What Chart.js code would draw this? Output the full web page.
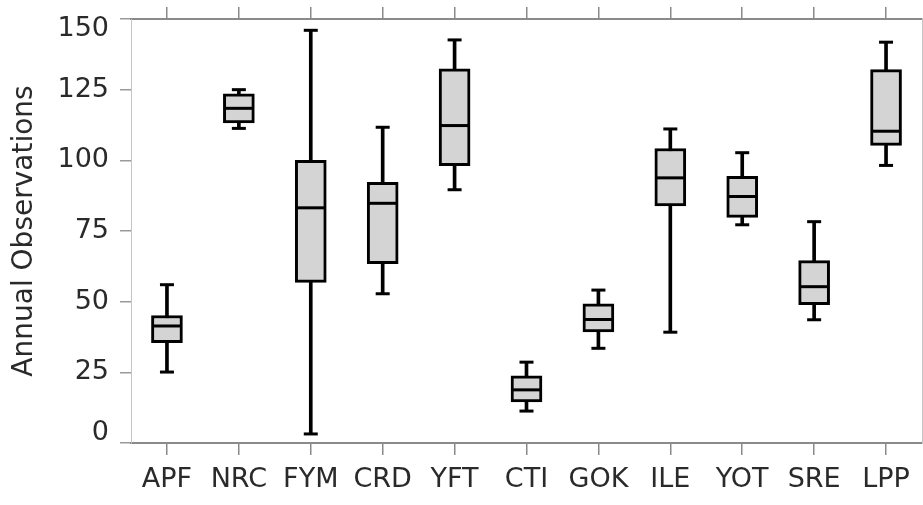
<!DOCTYPE html>
<html>
<head>
<meta charset="utf-8">
<script src="https://cdn.jsdelivr.net/npm/chart.js@4/dist/chart.umd.min.js"></script>
<style>
  html, body { margin: 0; padding: 0; background: #fff; }
  #wrap { width: 923px; height: 505px; position: relative; }
</style>
</head>
<body>
<div id="wrap"><canvas id="boxChart"></canvas></div>
<script>
// station codes and box-plot statistics (annual observations)
const categories  = ['APF', 'NRC', 'FYM', 'CRD', 'YFT', 'CTI', 'GOK', 'ILE', 'YOT', 'SRE', 'LPP'];
const whiskerLow  = [25.1, 111.3,   3.2, 52.8,  89.6, 11.3, 33.5, 39.2,  77.2, 43.6,  98.2];
const quartile1   = [35.5, 113.2,  56.8, 63.4,  98.1, 14.5, 39.3, 83.9,  79.8, 48.9, 105.3];
const medians     = [41.4, 118.4,  83.2, 84.8, 112.3, 18.8, 43.7, 93.8,  87.2, 55.3, 110.3];
const quartile3   = [45.1, 123.5, 100.0, 92.2, 132.4, 23.8, 49.2, 104.2, 94.3, 64.5, 132.1];
const whiskerHigh = [56.0, 125.0, 146.0, 111.7, 142.6, 28.6, 54.1, 111.1, 102.7, 78.3, 141.8];
const yTickValues = [0, 25, 50, 75, 100, 125, 150];

const FONT = '"DejaVu Sans", sans-serif';
const TEXT = '#2a2a2a';
const AXIS_GREY = '#8a8a8a';

// y labels are kept inside the axis range (first and last are pulled in)
const yLabelPlugin = {
    id: 'yLabels',
    afterDraw(chart) {
        const s = chart.scales.y;
        const ctx = chart.ctx;
        ctx.save();
        ctx.font = '27px ' + FONT;
        ctx.fillStyle = TEXT;
        ctx.textAlign = 'right';
        ctx.textBaseline = 'middle';
        s.ticks.forEach(t => {
            let py = s.getPixelForValue(t.value);
            py = Math.min(Math.max(py, s.top + 10), s.bottom - 10);
            ctx.fillText(String(t.value), 109, py);
        });
        ctx.restore();
    }
};

const fixedTicks = (scale) => {
    scale.ticks = yTickValues.map(v => ({ value: v }));
};

// no extra side padding for the category axes, plot runs to the right edge
const noSidePad = (h) => (s) => {
    s.height = h;
    s.paddingLeft = 0;
    s.paddingRight = 0;
};

new Chart(document.getElementById('boxChart'), {
    type: 'bar',
    data: {
        labels: categories,
        datasets: [
            {
                type: 'line', label: 'median', data: medians,
                showLine: false, pointStyle: 'line', pointRadius: 14, pointHoverRadius: 14,
                borderColor: '#000', borderWidth: 3, order: 1
            },
            {
                type: 'line', label: 'low cap', data: whiskerLow,
                showLine: false, pointStyle: 'line', pointRadius: 7, pointHoverRadius: 7,
                borderColor: '#000', borderWidth: 3, order: 1
            },
            {
                type: 'line', label: 'high cap', data: whiskerHigh,
                showLine: false, pointStyle: 'line', pointRadius: 7, pointHoverRadius: 7,
                borderColor: '#000', borderWidth: 3, order: 1
            },
            {
                label: 'box', data: categories.map((c, i) => [quartile1[i], quartile3[i]]),
                backgroundColor: '#d4d4d4', borderColor: '#000', borderWidth: 3,
                borderSkipped: false, barThickness: 31, grouped: false, order: 2
            },
            {
                label: 'whisker', data: categories.map((c, i) => [whiskerLow[i], whiskerHigh[i]]),
                backgroundColor: '#000', borderWidth: 0,
                barThickness: 3, grouped: false, order: 3
            }
        ]
    },
    options: {
        responsive: true,
        maintainAspectRatio: false,
        animation: false,
        layout: { padding: 0, autoPadding: false },
        plugins: { legend: { display: false }, tooltip: { enabled: false } },
        scales: {
            x: {
                position: 'bottom',
                offset: true,
                grid: { display: true, offset: false, drawOnChartArea: false, drawTicks: true, tickLength: 12, color: AXIS_GREY, lineWidth: 1.5 },
                border: { display: true, color: AXIS_GREY, width: 2 },
                ticks: { color: TEXT, font: { family: FONT, size: 27 }, padding: 9, maxRotation: 0, autoSkip: false },
                afterFit: noSidePad(62)
            },
            xTop: {
                type: 'category',
                position: 'top',
                offset: true,
                grid: { display: true, offset: false, drawOnChartArea: false, drawTicks: true, tickLength: 12, color: AXIS_GREY, lineWidth: 1.5 },
                border: { display: true, color: AXIS_GREY, width: 2 },
                ticks: { display: false },
                afterFit: noSidePad(19)
            },
            y: {
                position: 'left',
                min: 0, max: 150,
                afterBuildTicks: fixedTicks,
                grid: { display: true, drawOnChartArea: false, drawTicks: true, tickLength: 11, color: '#9a9a9a', lineWidth: 1.5 },
                border: { display: true, color: '#c4c4c4', width: 1 },
                ticks: { display: false },
                title: {
                    display: true, text: 'Annual Observations', color: TEXT,
                    font: { family: FONT, size: 28 }, padding: { top: 8, bottom: 0 }
                },
                afterFit: (s) => { s.width = 131; }
            },
            yRight: {
                position: 'right',
                min: 0, max: 150,
                afterBuildTicks: fixedTicks,
                grid: { display: true, drawOnChartArea: false, drawTicks: true, tickLength: 2, color: '#9a9a9a', lineWidth: 1 },
                border: { display: true, color: '#c4c4c4', width: 1 },
                ticks: { display: false },
                afterFit: (s) => { s.width = 1; }
            }
        }
    },
    plugins: [yLabelPlugin]
});
</script>
</body>
</html>
